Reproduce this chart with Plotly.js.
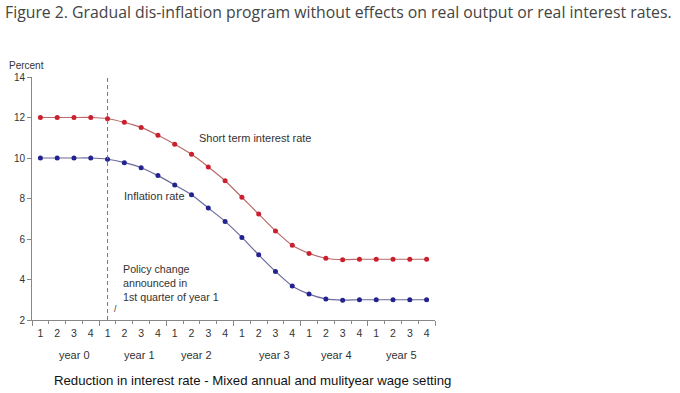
<!DOCTYPE html>
<html>
<head>
<meta charset="utf-8">
<script src="https://cdn.plot.ly/plotly-3.0.1.min.js"></script>
<style>
html,body{margin:0;padding:0;background:#fff;}
#chart{width:680px;height:393px;}
</style>
</head>
<body>
<div id="chart"></div>
<script>
// quarters (index 0..23), 4 per year
const quarterLabels = ["1","2","3","4","1","2","3","4","1","2","3","4","1","2","3","4","1","2","3","4","1","2","3","4"];
const yearLabels = ["year 0","year 1","year 2","year 3","year 4","year 5"];
const shortRate = [12,12,12,12,11.94,11.76,11.51,11.12,10.68,10.18,9.56,8.88,8.06,7.23,6.4,5.69,5.29,5.05,4.98,5,5,5,5,5];
const inflation = [10,10,10,10,9.94,9.77,9.52,9.13,8.67,8.19,7.53,6.87,6.08,5.22,4.4,3.68,3.28,3.04,2.98,3,3,3,3,3];
const yTicks = [2,4,6,8,10,12,14];
const policyQuarter = 4;

const xIdx = quarterLabels.map((_, i) => i);
const FONT = "Liberation Sans, Arial, sans-serif";

const traces = [
  {x: xIdx, y: shortRate, mode: "lines+markers", type: "scatter",
   line: {color: "#b86a6a", width: 1.2, shape: "spline", smoothing: 0.6},
   marker: {color: "#cc1f2e", size: 5}, hoverinfo: "none", showlegend: false},
  {x: xIdx, y: inflation, mode: "lines+markers", type: "scatter",
   line: {color: "#6a6a9c", width: 1.2, shape: "spline", smoothing: 0.6},
   marker: {color: "#23238f", size: 5}, hoverinfo: "none", showlegend: false},
  {x: [policyQuarter, policyQuarter], y: [yTicks[0], yTicks[yTicks.length-1]], mode: "lines", type: "scatter",
   line: {color: "#777", width: 1, dash: "4px,3px"}, hoverinfo: "none", showlegend: false}
];

const halfTicks = [];
for (let i = 0; i <= quarterLabels.length; i++) halfTicks.push(i - 0.5);
const yearTicks = halfTicks.filter((_, i) => i % 4 === 0);
const yearLabelX = [2.05, 5.9, 9.3, 13.95, 17.65, 21.5];

const annotations = [
  {text: "Percent", xref: "paper", yref: "paper", x: -0.062, y: 1.0, xanchor: "left", yanchor: "bottom", yshift: 4,
   showarrow: false, font: {family: FONT, size: 10, color: "#333"}},
  {text: "Short term interest rate", xref: "x", yref: "y", x: 9.3, y: 10.99, xanchor: "left", yanchor: "middle",
   showarrow: false, font: {family: FONT, size: 11, color: "#333"}},
  {text: "Inflation rate", xref: "x", yref: "y", x: 4.85, y: 8.12, xanchor: "left", yanchor: "middle",
   showarrow: false, font: {family: FONT, size: 11, color: "#333"}},
  {text: "Policy change<br>announced in<br>1st quarter of year 1", xref: "x", yref: "y", x: 4.8, y: 3.83,
   xanchor: "left", yanchor: "middle", align: "left", showarrow: false,
   font: {family: FONT, size: 10.7, color: "#333"}},
  {text: "/", xref: "x", yref: "y", x: 4.5, y: 2.55, xanchor: "center", yanchor: "middle",
   showarrow: false, font: {family: FONT, size: 9, color: "#333"}},
  {text: "Reduction in interest rate - Mixed annual and mulityear wage setting", xref: "paper", yref: "paper",
   x: 0.546, y: -0.247, xanchor: "center", yanchor: "middle", showarrow: false,
   font: {family: FONT, size: 13.2, color: "#111"}},
  {text: "Figure 2. Gradual dis-inflation program without effects on real output or real interest rates.",
   xref: "paper", yref: "paper", x: -0.072, y: 1.268, xanchor: "left", yanchor: "middle", showarrow: false,
   font: {family: "Open Sans, sans-serif", size: 15.8, color: "#444"}}
];
yearLabels.forEach((t, i) => annotations.push({
  text: t, xref: "x", yref: "paper", x: yearLabelX[i], y: -0.144, xanchor: "center", yanchor: "middle",
  showarrow: false, font: {family: FONT, size: 11, color: "#333"}
}));

const layout = {
  width: 680, height: 393,
  margin: {l: 32, r: 245, t: 77, b: 73},
  paper_bgcolor: "#fff", plot_bgcolor: "#fff",
  font: {family: FONT, size: 10, color: "#333"},
  xaxis: {range: [-0.5, 23.5], showgrid: false, zeroline: false, showline: true, linecolor: "#888", linewidth: 1,
          tickmode: "array", tickvals: yearTicks, ticks: "outside", ticklen: 5, tickcolor: "#888",
          showticklabels: false,
          minor: {tickmode: "array", tickvals: halfTicks, ticks: "outside", ticklen: 3, tickcolor: "#888"}},
  xaxis2: {range: [-0.5, 23.5], overlaying: "x", anchor: "y", side: "bottom", showgrid: false, zeroline: false,
           showline: false, tickmode: "array", tickvals: xIdx, ticktext: quarterLabels, ticks: "",
           ticklabelstandoff: 5,
           tickfont: {family: FONT, size: 10.5, color: "#333"}},
  yaxis: {range: [2, 14], showgrid: false, zeroline: false, showline: true, linecolor: "#888", linewidth: 1,
          tickmode: "array", tickvals: yTicks, ticks: "outside", ticklen: 4, tickcolor: "#888",
          tickfont: {family: FONT, size: 10, color: "#333"}},
  annotations: annotations,
  hovermode: false
};
traces.push({x: [0], y: [null], xaxis: "x2", yaxis: "y", type: "scatter", mode: "markers", showlegend: false, hoverinfo: "none"});

Plotly.newPlot("chart", traces, layout, {staticPlot: true, displayModeBar: false});
</script>
</body>
</html>
